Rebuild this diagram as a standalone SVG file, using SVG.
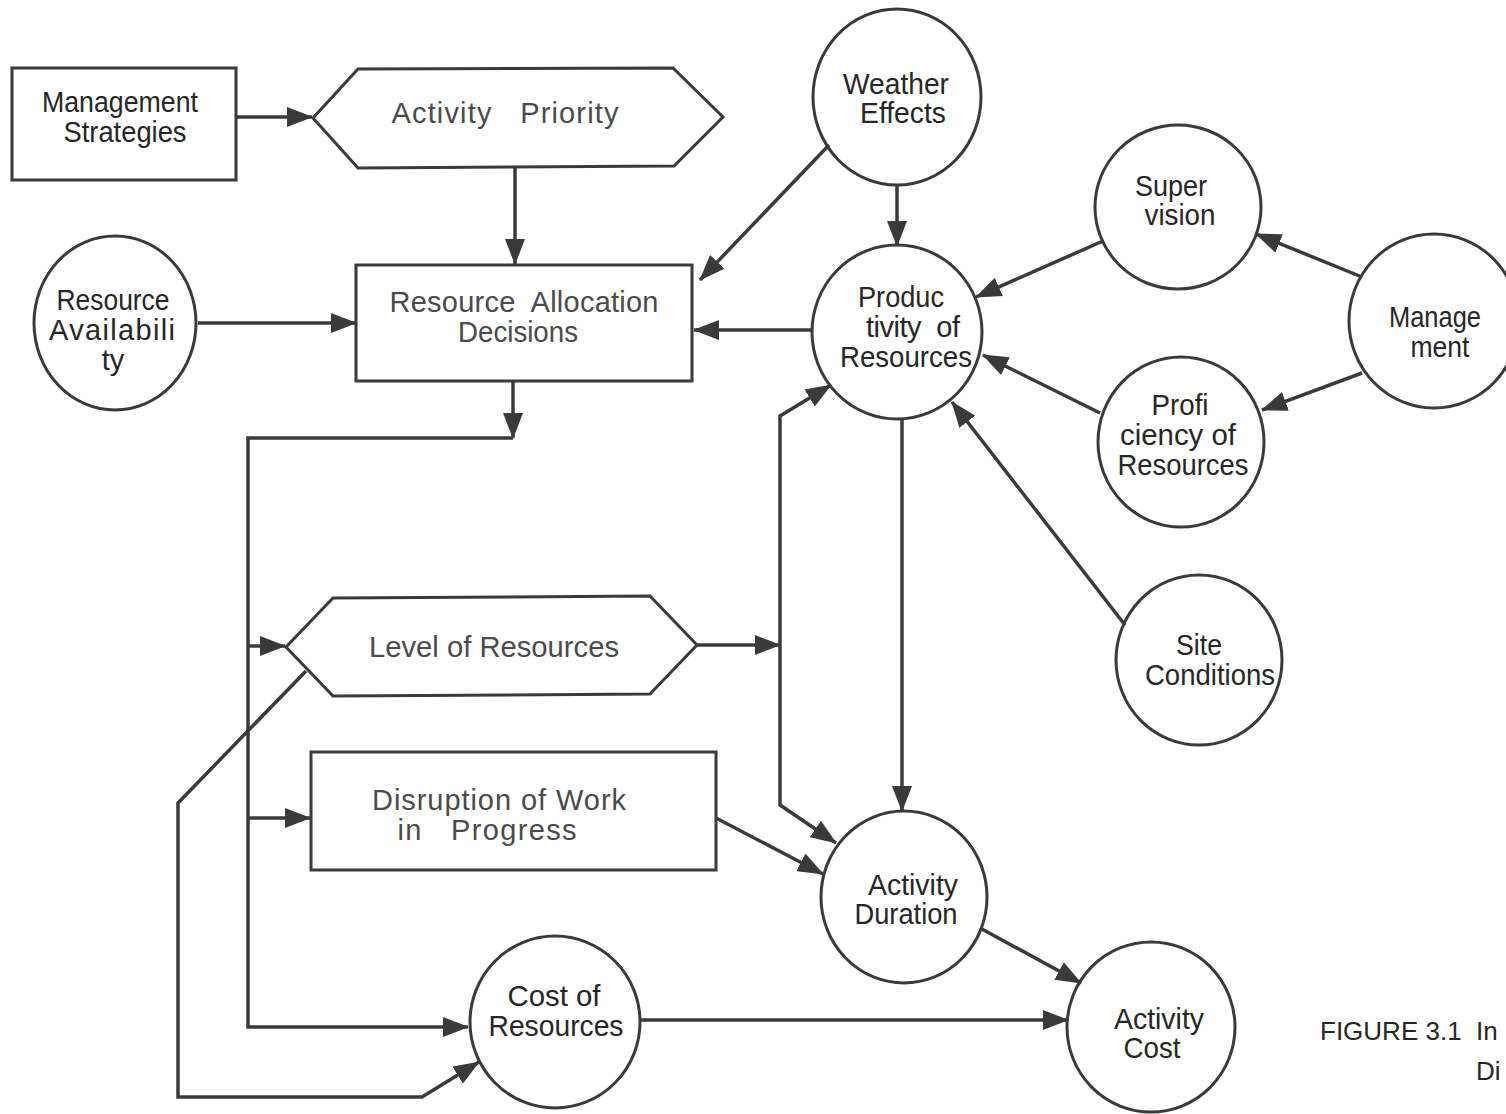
<svg xmlns="http://www.w3.org/2000/svg" width="1506" height="1114" viewBox="0 0 1506 1114">
<style>
.n{fill:none;stroke:#3a3a3a;stroke-width:3}
.c{fill:none;stroke:#3a3a3a;stroke-width:3}
.t{font-family:"Liberation Sans",Arial,sans-serif;font-size:29px;fill:#262626;text-anchor:middle}
.g{fill:#4a4a4a}
.cap{font-family:"Liberation Sans",Arial,sans-serif;font-size:26px;fill:#262626}
.l{fill:none;stroke:#3a3a3a;stroke-width:3.5;stroke-linejoin:miter}
.a{marker-end:url(#ah)}
</style>
<defs>
<marker id="ah" markerUnits="userSpaceOnUse" markerWidth="26" markerHeight="20" refX="25" refY="10" orient="auto">
<path d="M0,0 L26,10 L0,20 z" fill="#3a3a3a"/>
</marker>
</defs>
<rect width="1506" height="1114" fill="#fff"/>
<g id="connectors">
<path class="l a" d="M236,117 H312"/>
<path class="l a" d="M515,167 V264"/>
<path class="l a" d="M198,323 H356"/>
<path class="l a" d="M829,145 L700,280"/>
<path class="l a" d="M897,185 V246"/>
<path class="l a" d="M812,330 H694"/>
<path class="l a" d="M1103,241 L976,297"/>
<path class="l a" d="M1362,277 L1256,234"/>
<path class="l a" d="M1362,373 L1262,410"/>
<path class="l a" d="M1100,413 L983,355"/>
<path class="l a" d="M1125,625 L952,402"/>
<path class="l a" d="M902,418 V811"/>
<path class="l a" d="M513,381 V438"/>
<path class="l a" d="M513,438 H248 V1027 H468"/>
<path class="l a" d="M248,646 H285"/>
<path class="l a" d="M248,818 H310"/>
<path class="l a" d="M697,645 H780"/>
<path class="l a" d="M780,645 V416 L831,385"/>
<path class="l a" d="M780,645 V805 L836,843"/>
<path class="l a" d="M716,818 L823,874"/>
<path class="l a" d="M306,671 L178,803 V1097 H422 L479,1062"/>
<path class="l a" d="M640,1020 H1068"/>
<path class="l a" d="M980,928 L1081,983"/>
</g>
<g id="management-strategies">
<rect class="n" x="12" y="68" width="224" height="112"/>
<text class="t" x="120" y="112" textLength="156" lengthAdjust="spacingAndGlyphs">Management</text>
<text class="t" x="125" y="142" textLength="123" lengthAdjust="spacingAndGlyphs">Strategies</text>
</g>
<g id="activity-priority">
<polygon class="n" points="313,118 358,69 673,68 723,117 674,166 358,168"/>
<text class="t g" x="505" y="123" textLength="227" lengthAdjust="spacing" xml:space="preserve">Activity   Priority</text>
</g>
<g id="resource-allocation-decisions">
<rect class="n" x="356" y="265" width="336" height="116"/>
<text class="t g" x="524" y="312" textLength="269" lengthAdjust="spacing" xml:space="preserve">Resource  Allocation</text>
<text class="t g" x="518" y="342" textLength="120" lengthAdjust="spacingAndGlyphs">Decisions</text>
</g>
<g id="resource-availability">
<ellipse class="c" cx="115" cy="323" rx="81" ry="87"/>
<text class="t" x="113" y="310" textLength="113" lengthAdjust="spacingAndGlyphs">Resource</text>
<text class="t" x="112" y="340" textLength="126" lengthAdjust="spacing">Availabili</text>
<text class="t" x="113" y="370">ty</text>
</g>
<g id="weather-effects">
<ellipse class="c" cx="897" cy="97" rx="84" ry="88"/>
<text class="t" x="896" y="94" textLength="106" lengthAdjust="spacingAndGlyphs">Weather</text>
<text class="t" x="903" y="123" textLength="86" lengthAdjust="spacingAndGlyphs">Effects</text>
</g>
<g id="productivity-of-resources">
<ellipse class="c" cx="897" cy="332" rx="85" ry="87"/>
<text class="t" x="901" y="307" textLength="86" lengthAdjust="spacingAndGlyphs">Produc</text>
<text class="t" x="913" y="337" textLength="94" lengthAdjust="spacing" xml:space="preserve">tivity  of</text>
<text class="t" x="906" y="367" textLength="132" lengthAdjust="spacingAndGlyphs">Resources</text>
</g>
<g id="supervision">
<ellipse class="c" cx="1178" cy="207" rx="83" ry="82"/>
<text class="t" x="1171" y="196" textLength="72" lengthAdjust="spacingAndGlyphs">Super</text>
<text class="t" x="1180" y="225" textLength="71" lengthAdjust="spacingAndGlyphs">vision</text>
</g>
<g id="management">
<ellipse class="c" cx="1434" cy="321" rx="85" ry="87"/>
<text class="t" x="1435" y="327" textLength="92" lengthAdjust="spacingAndGlyphs">Manage</text>
<text class="t" x="1440" y="357" textLength="59" lengthAdjust="spacingAndGlyphs">ment</text>
</g>
<g id="proficiency-of-resources">
<ellipse class="c" cx="1181" cy="442" rx="83" ry="85"/>
<text class="t" x="1180" y="415" textLength="57" lengthAdjust="spacingAndGlyphs">Profi</text>
<text class="t" x="1178" y="445" textLength="116" lengthAdjust="spacingAndGlyphs">ciency of</text>
<text class="t" x="1183" y="475" textLength="131" lengthAdjust="spacingAndGlyphs">Resources</text>
</g>
<g id="site-conditions">
<ellipse class="c" cx="1199" cy="660" rx="83" ry="85"/>
<text class="t" x="1199" y="655" textLength="46" lengthAdjust="spacingAndGlyphs">Site</text>
<text class="t" x="1210" y="685" textLength="130" lengthAdjust="spacingAndGlyphs">Conditions</text>
</g>
<g id="level-of-resources">
<polygon class="n" points="286,647 333,598 650,596 697,645 650,694 333,696"/>
<text class="t g" x="494" y="657" textLength="250" lengthAdjust="spacingAndGlyphs">Level of Resources</text>
</g>
<g id="disruption-of-work">
<rect class="n" x="311" y="752" width="405" height="118"/>
<text class="t g" x="499" y="810" textLength="254" lengthAdjust="spacing">Disruption of Work</text>
<text class="t g" x="487" y="840" textLength="179" lengthAdjust="spacing" xml:space="preserve">in   Progress</text>
</g>
<g id="activity-duration">
<ellipse class="c" cx="904" cy="897" rx="83" ry="86"/>
<text class="t" x="913" y="895" textLength="90" lengthAdjust="spacingAndGlyphs">Activity</text>
<text class="t" x="906" y="924" textLength="103" lengthAdjust="spacingAndGlyphs">Duration</text>
</g>
<g id="cost-of-resources">
<ellipse class="c" cx="555" cy="1022" rx="85" ry="86"/>
<text class="t" x="554" y="1006" textLength="93" lengthAdjust="spacingAndGlyphs">Cost of</text>
<text class="t" x="556" y="1036" textLength="135" lengthAdjust="spacingAndGlyphs">Resources</text>
</g>
<g id="activity-cost">
<ellipse class="c" cx="1151" cy="1027" rx="84" ry="85"/>
<text class="t" x="1159" y="1029" textLength="90" lengthAdjust="spacingAndGlyphs">Activity</text>
<text class="t" x="1152" y="1058" textLength="57" lengthAdjust="spacingAndGlyphs">Cost</text>
</g>
<g id="caption">
<text class="cap" x="1320" y="1040" xml:space="preserve">FIGURE 3.1  In</text>
<text class="cap" x="1476" y="1080">Di</text>
</g>
</svg>
